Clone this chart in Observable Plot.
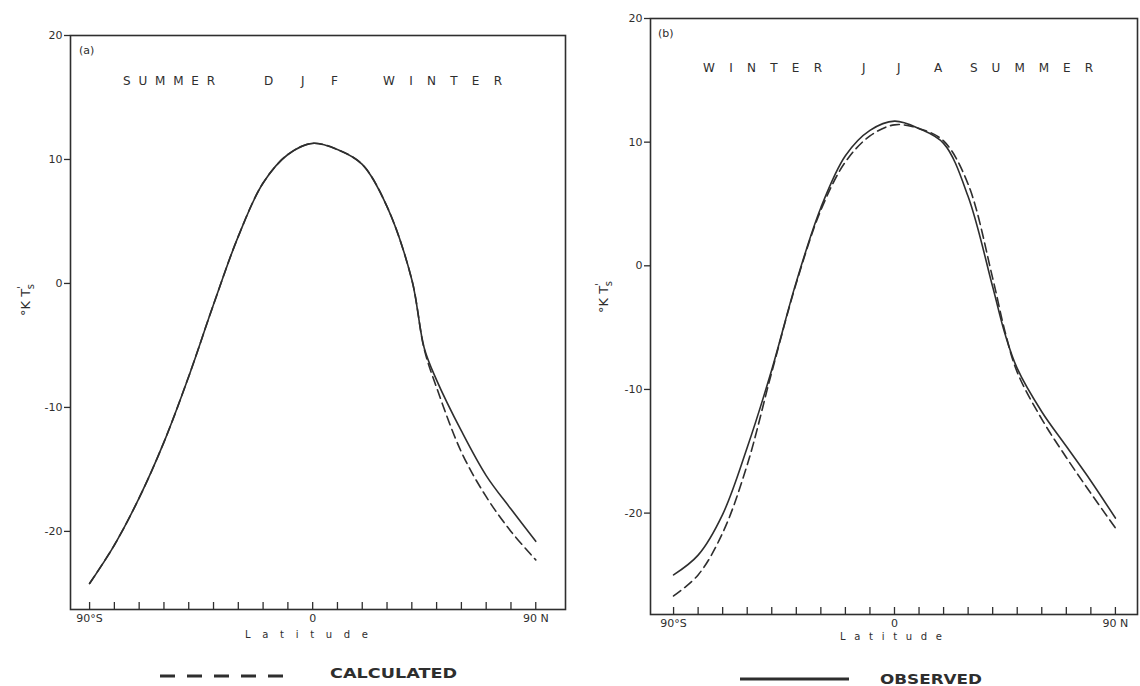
<!DOCTYPE html>
<html><head><meta charset="utf-8">
<script src="https://cdn.jsdelivr.net/npm/d3@7"></script>
<script src="https://cdn.jsdelivr.net/npm/@observablehq/plot@0.6"></script>
<style>
body{margin:0;background:#fff;}
#wrap{position:relative;width:1140px;height:686px;overflow:hidden;background:#fff;font-family:"DejaVu Sans",sans-serif;color:#2e2e2e}
.panel{position:absolute;top:0}
</style></head><body><div id="wrap"><div id="pa" class="panel" style="left:0"></div><div id="pb" class="panel" style="left:580px"></div></div>
<script>
// Latitude (deg, negative = south)
const latitudes = [-90,-80,-70,-60,-50,-40,-30,-20,-10,0,10,20,30,40,45,50,60,70,80,90];
// (a) DJF, degK
const djfObserved   = [-24.2,-21.1,-17.3,-12.8,-7.5,-1.7,3.8,8.1,10.4,11.3,10.8,9.6,6.2,0.3,-5.2,-7.8,-11.9,-15.5,-18.2,-20.8];
const djfCalculated = [-24.2,-21.1,-17.3,-12.8,-7.5,-1.7,3.8,8.1,10.4,11.3,10.8,9.6,6.2,0.3,-5.3,-8.4,-13.6,-17.2,-20.0,-22.3];
// (b) JJA, degK
const jjaObserved   = [-25.0,-23.4,-20.1,-14.7,-8.4,-1.3,4.7,8.9,10.95,11.7,11.1,9.9,5.6,-1.7,-5.5,-8.3,-11.8,-14.6,-17.4,-20.4];
const jjaCalculated = [-26.7,-25.0,-21.6,-16.1,-8.6,-1.4,4.5,8.4,10.5,11.4,11.1,10.1,6.6,-1.0,-5.3,-8.6,-12.4,-15.5,-18.4,-21.2];

const yTicks = [20,10,0,-10,-20];
const yTickLabels = ["20","10","0","-10","-20"];
const xMinorTicks = d3.range(-90, 91, 10);
const xLabelTicks = [-90, 0, 90];
const xTickLabels = ["90°S", "0", "90 N"];

const ink = "#2e2e2e";

function makePanel(cfg) {
  const data = latitudes.map((lat, i) => ({lat, obs: cfg.obs[i], calc: cfg.calc[i]}));
  const innerH = cfg.height - cfg.marginTop - cfg.marginBottom;
  const svg = Plot.plot({
    width: cfg.width, height: cfg.height,
    marginLeft: cfg.marginLeft, marginRight: cfg.marginRight,
    marginTop: cfg.marginTop, marginBottom: cfg.marginBottom,
    style: {fontFamily: "DejaVu Sans, sans-serif", fontSize: "11px", color: ink, background: "transparent"},
    x: {domain: cfg.xDomain},
    y: {domain: cfg.yDomain},
    marks: [
      Plot.frame({stroke: ink, strokeWidth: 1.6}),
      Plot.axisY({ticks: yTicks, tickSize: 6, tickPadding: 2, tickFormat: d => yTickLabels[yTicks.indexOf(d)], label: null, stroke: ink, strokeWidth: 1.3}),
      Plot.ruleX(xMinorTicks, {x: d => d, insetTop: innerH - 7, stroke: ink, strokeWidth: 1.3}),
      Plot.axisX({ticks: xLabelTicks, tickSize: 0, tickPadding: 5, tickFormat: d => xTickLabels[xLabelTicks.indexOf(d)], label: null}),
      Plot.line(data, {x: "lat", y: "obs", curve: "catmull-rom", stroke: ink, strokeWidth: 1.6}),
      Plot.line(data, {x: "lat", y: "calc", curve: "catmull-rom", stroke: ink, strokeWidth: 1.6, strokeDasharray: "9,5"})
    ]
  });
  const s = d3.select(svg);
  const g = s.append("g").attr("fill", ink).attr("text-anchor", "start").attr("font-family", "DejaVu Sans, sans-serif");
  // panel letter
  g.append("text").attr("x", cfg.letterX).attr("y", cfg.letterY).attr("font-size", 11).text(cfg.letter);
  // season header words
  cfg.words.forEach(w => {
    const t = g.append("text").attr("x", w.x).attr("y", cfg.wordsY).attr("font-size", 12).text(w.t);
    if (w.len) t.attr("textLength", w.len).attr("lengthAdjust", "spacing");
  });
  // y label
  const yl = g.append("text").attr("transform", `translate(${cfg.ylabX},${cfg.ylabY}) rotate(-90)`)
    .attr("text-anchor", "middle").attr("font-size", 13);
  yl.append("tspan").text("°K T");
  yl.append("tspan").attr("dy", -5).attr("font-size", 10).text("'");
  yl.append("tspan").attr("dx", -3).attr("dy", 9).attr("font-size", 10).text("s");
  // x label
  g.append("text").attr("x", cfg.latX).attr("y", cfg.latY).attr("font-size", 10)
    .attr("textLength", cfg.latLen).attr("lengthAdjust", "spacing").text("Latitude");
  // legend
  const lg = s.append("g").attr("text-anchor", "start");
  lg.append("line").attr("x1", cfg.leg.x1).attr("x2", cfg.leg.x2).attr("y1", cfg.leg.y).attr("y2", cfg.leg.y)
    .attr("stroke", ink).attr("stroke-width", 3).attr("stroke-dasharray", cfg.leg.dash || null);
  lg.append("text").attr("x", cfg.leg.tx).attr("y", cfg.leg.ty).attr("font-size", 14).attr("font-weight", "bold")
    .attr("fill", ink).attr("font-family", "DejaVu Sans, sans-serif")
    .attr("textLength", cfg.leg.tlen).attr("lengthAdjust", "spacingAndGlyphs").text(cfg.leg.text);
  return svg;
}

document.getElementById("pa").appendChild(makePanel({
  width: 580, height: 686, marginLeft: 70, marginRight: 15, marginTop: 35, marginBottom: 77,
  xDomain: [-97.7, 102], yDomain: [-26.3, 20],
  obs: djfObserved, calc: djfCalculated,
  letter: "(a)", letterX: 79, letterY: 54,
  wordsY: 85,
  words: [{t: "SUMMER", x: 123, len: 92}, {t: "D", x: 264}, {t: "J", x: 301}, {t: "F", x: 331}, {t: "WINTER", x: 383, len: 119}],
  ylabX: 30, ylabY: 300,
  latX: 245, latY: 638, latLen: 123,
  leg: {x1: 160, x2: 295, y: 676, dash: "15,12", tx: 330, ty: 678, tlen: 127, text: "CALCULATED"}
}));

document.getElementById("pb").appendChild(makePanel({
  width: 560, height: 686, marginLeft: 70, marginRight: 3, marginTop: 18, marginBottom: 72,
  xDomain: [-99.4, 99], yDomain: [-28.2, 20],
  obs: jjaObserved, calc: jjaCalculated,
  letter: "(b)", letterX: 78, letterY: 37,
  wordsY: 72,
  words: [{t: "WINTER", x: 123, len: 119}, {t: "J", x: 282}, {t: "J", x: 317}, {t: "A", x: 354}, {t: "SUMMER", x: 390, len: 123}],
  ylabX: 28, ylabY: 297,
  latX: 260, latY: 640, latLen: 102,
  leg: {x1: 160, x2: 269, y: 679, tx: 300, ty: 684, tlen: 102, text: "OBSERVED"}
}));
</script>
</body></html>
